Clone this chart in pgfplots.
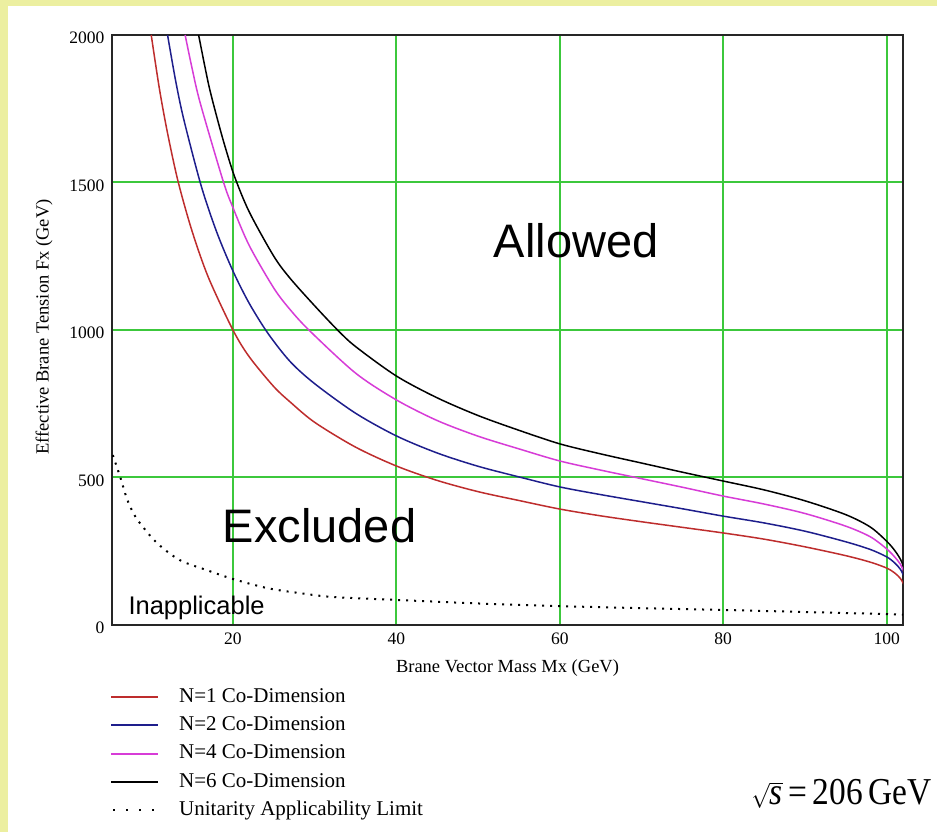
\documentclass[border=0pt]{standalone}
\usepackage{fontspec}
\setmainfont{Liberation Serif}
\newfontfamily\arial{Liberation Sans}
\usepackage{graphicx}
\usepackage{pgfplots}
\pgfplotsset{compat=1.18}
\definecolor{bgyellow}{RGB}{236,239,160}
\definecolor{gridgreen}{RGB}{60,200,60}
\definecolor{cred}{RGB}{190,45,45}
\definecolor{cblue}{RGB}{30,30,140}
\definecolor{cmag}{RGB}{215,60,215}

\pgfplotstableread{
x y
10.0 2000
11 1818
12 1667
13.3 1502
15 1335
17 1178
20 1000
22 909
25 808
27 756
30 687
35 603
40 539
45 490
50 452
55 422
60 393
65 370
70 350
75 331
80 312
85 291
90 265
95 235
98 213
100 193
101 176
101.7 157
102.2 132
}\nOne

\pgfplotstableread{
x y
12.0 2000
13 1843
14 1712
16.1 1490
18 1333
20 1200
22 1090
24.3 988
27 893
30 818
35 718
40 641
45 583
50 538
55 502
60 468
65 442
70 418
75 394
80 369
85 346
90 318
95 282
98 256
100 231
101 210
101.7 188
102.2 160
}\nTwo

\pgfplotstableread{
x y
14.15 2000
15 1887
16 1769
18.8 1505
20 1415
22 1286
25 1142
27 1069
29.4 997
35 854
40 763
45 693
50 640
55 597
60 556
65 525
70 496
75 467
80 437
85 410
90 378
95 335
98 299
100 258
101 230
101.7 205
102.2 175
}\nFour

\pgfplotstableread{
x y
15.8 2000
17 1835
18 1725
19 1625
20.2 1520
22 1400
25 1250
27 1175
30 1082
32.8 1000
35 944
40 844
45 770
50 710
55 660
60 614
65 580
70 549
75 518
80 488
85 458
90 421
95 374
98 332
100 284
101 252
101.7 222
102.2 190
}\nSix

\pgfplotstableread{
x y
5.3 576
6.2 502
7.0 430
7.8 380
8.6 346
10.7 278
13.5 220
16.8 186
20 156
24.2 125
28.2 108
32.2 95
40 85
50 73
60 64
70 57
80 51
90 44
100 37
102 35
}\unitarity

\begin{document}
\begin{tikzpicture}[x=1pt,y=1pt]
\fill[bgyellow] (0,0) rectangle (937,832);
\fill[white] (8,0) rectangle (937,826);
\begin{axis}[
  at={(112pt,207pt)}, anchor=south west,
  scale only axis, width=791pt, height=590pt,
  xmin=5.2, xmax=102, ymin=0, ymax=2000,
  xtick={20,40,60,80,100}, ytick={0,500,1000,1500,2000},
  major tick length=0pt,
  grid=major,
  major grid style={gridgreen, line width=2pt},
  axis line style={black!85, line width=1.6pt},
  tick label style={font=\fontsize{17.5}{18}\selectfont},
  /pgf/number format/assume math mode=true,
  /pgf/number format/1000 sep={},
  xticklabel style={yshift=-4pt},
  yticklabel style={xshift=-4pt, yshift=-3pt},
  xlabel={Brane Vector Mass Mx (GeV)},
  ylabel={Effective Brane Tension Fx (GeV)},
  xlabel style={at={(axis description cs:0.5,-0.0729)}, anchor=center, font=\fontsize{18.5}{20}\selectfont},
  ylabel style={at={(axis description cs:-0.086,0.505)}, anchor=center, font=\fontsize{18.5}{20}\selectfont},
  legend style={at={(axis description cs:-0.0025,-0.105)}, anchor=north west, draw=none, fill=none, inner sep=0pt, row sep=8.3pt, font=\fontsize{21}{22}\selectfont, nodes={inner sep=0pt, text height=15pt, text depth=5pt, anchor=west}, /tikz/every odd column/.append style={column sep=20pt}},
  legend cell align=left,
  legend image code/.code={\draw[#1, line width=2pt] (0pt,0pt) -- (47pt,0pt);},
]
\addplot[cred, line width=1.5pt, smooth, tension=0.5] table {\nOne};
\addlegendentry{N=1 Co-Dimension}
\addplot[cblue, line width=1.5pt, smooth, tension=0.5] table {\nTwo};
\addlegendentry{N=2 Co-Dimension}
\addplot[cmag, line width=1.5pt, smooth, tension=0.5] table {\nFour};
\addlegendentry{N=4 Co-Dimension}
\addplot[black, line width=1.5pt, smooth, tension=0.5] table {\nSix};
\addlegendentry{N=6 Co-Dimension}
\addplot[black, line width=2pt, dash pattern=on 2pt off 6pt, smooth, tension=0.5,
  legend image code/.code={\draw[black, line width=2pt, dash pattern=on 2pt off 11pt] (2pt,0pt) -- (47pt,0pt);}] table {\unitarity};
\addlegendentry{Unitarity Applicability Limit}
\node[font=\arial\fontsize{47}{49}\selectfont, anchor=base] at (axis cs:62,1247) {Allowed};
\node[font=\arial\fontsize{47}{49}\selectfont, anchor=base] at (axis cs:30.6,278) {Excluded};
\node[font=\arial\fontsize{25.5}{27}\selectfont, anchor=base west] at (axis cs:6.79,34) {Inapplicable};
\end{axis}
\node[anchor=base east, inner sep=0pt, font=\fontsize{38}{40}\selectfont] at (932,27) {\scalebox{0.88}[1]{$\sqrt{\mathit{s}}$\,=\,206\,GeV}};
\pgfresetboundingbox
\path (0,0) rectangle (937,832);
\end{tikzpicture}
\end{document}
